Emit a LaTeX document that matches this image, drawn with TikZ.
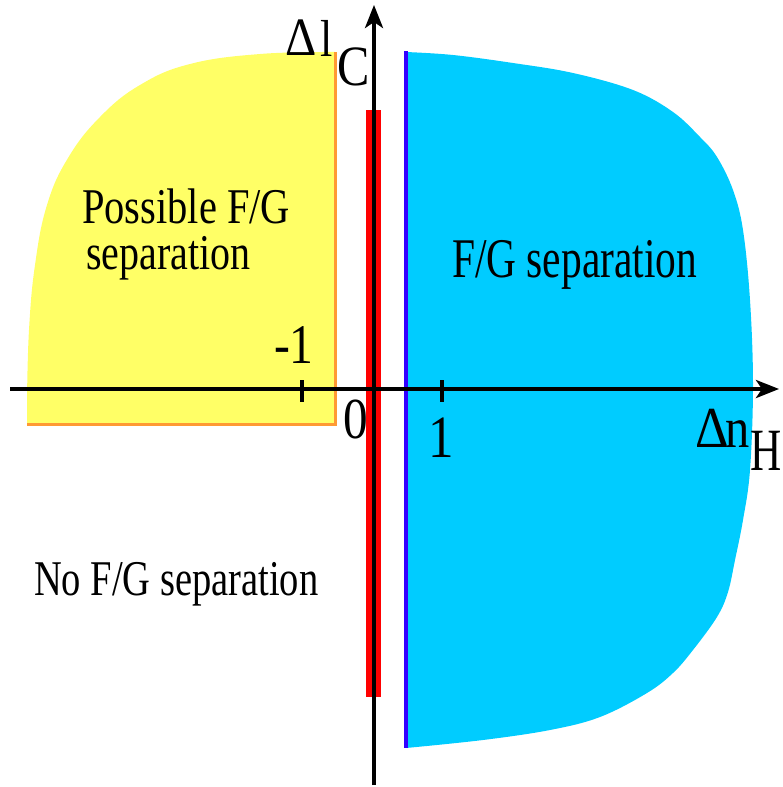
\documentclass[tikz,border=0pt]{standalone}
\usepackage{fontspec}
\setmainfont{Liberation Serif}
\usetikzlibrary{arrows.meta}
\definecolor{yel}{HTML}{FFFF66}
\definecolor{org}{HTML}{FF9933}
\definecolor{cyn}{HTML}{00CCFF}
\definecolor{blu}{HTML}{3300FF}
\definecolor{redb}{HTML}{FF0000}
\begin{document}
\begin{tikzpicture}[x=1pt,y=-1pt,
  lbl/.style={inner sep=0pt, outer sep=0pt, anchor=base west},
  axis/.style={line width=4pt, -{Stealth[length=23pt,width=18pt,inset=6pt]}},
  tick/.style={line width=3.5pt}]
\useasboundingbox (0,0) rectangle (783,787);
% yellow region
\fill[yel] (335,424) -- (27,424) -- plot[smooth,tension=0.7] coordinates {(27,400)(29,330)(35,265)(47,205)(68,158)(100,117)(140,85)(190,64)(260,54)(335,52)} -- cycle;
\draw[org, line width=3pt] (27,424) -- (335,424) -- (335,52);
% cyan region
\fill[cyn] (406,52) -- plot[smooth,tension=0.6] coordinates {(406,52)(453,55)(513,63)(573,73)(633,90)(673,112)(700,137)(717,157)(733,190)(743,230)(750,300)(753,385)(750,470)(743,520)(735,560)(728,592)(717,617)(693,650)(673,673)(647,693)(600,717)(550,730)(483,740)(406,748)} -- cycle;
\draw[blu, line width=4pt] (406,51) -- (406,748);
% red bar
\fill[redb] (366,110) rectangle (381,697);
% axes
\coordinate (ybot) at (374,785);
\coordinate (ytop) at (374,5);
\coordinate (xl) at (10,389);
\coordinate (xr) at (779,389);
\draw[axis] (ybot) -- (ytop);
\draw[axis] (xl) -- (xr);
\draw[tick] (302,380) -- (302,402);
\draw[tick] (442,380) -- (442,402);
% labels
\node[lbl] (t1) at (82,223) {\fontsize{50}{56}\selectfont\scalebox{0.81}[1]{Possible F/G}};
\node[lbl] (t2) at (86,269) {\fontsize{50}{56}\selectfont\scalebox{0.80}[1]{separation}};
\node[lbl] (t3) at (452,277) {\fontsize{56}{60}\selectfont\scalebox{0.74}[1]{F/G separation}};
\node[lbl] (t4) at (34,595) {\fontsize{50}{56}\selectfont\scalebox{0.77}[1]{No F/G separation}};
\node[lbl] (m1) at (274,363) {\fontsize{56}{60}\selectfont\scalebox{0.85}[1]{-1}};
\node[lbl] (z0) at (343,438) {\fontsize{58}{60}\selectfont\scalebox{0.85}[1]{0}};
\node[lbl] (o1) at (428,457) {\fontsize{60}{60}\selectfont\scalebox{0.85}[1]{1}};
\node[lbl] (dl) at (285,55) {\fontsize{54}{56}\selectfont\scalebox{0.9}[1]{Δ}};
\node[lbl] (ll) at (320,56) {\fontsize{52}{56}\selectfont\scalebox{0.85}[1]{l}};
\node[lbl] (cc) at (337,85) {\fontsize{57}{60}\selectfont\scalebox{0.85}[1]{C}};
\node[lbl] (dn) at (695,447) {\fontsize{58}{60}\selectfont\scalebox{0.9}[1]{Δ}};
\node[lbl] (nn) at (725,447) {\fontsize{57}{60}\selectfont\scalebox{0.85}[1]{n}};
\node[lbl] (hh) at (750,470) {\fontsize{60}{60}\selectfont\scalebox{0.72}[1]{H}};
\end{tikzpicture}
\end{document}
